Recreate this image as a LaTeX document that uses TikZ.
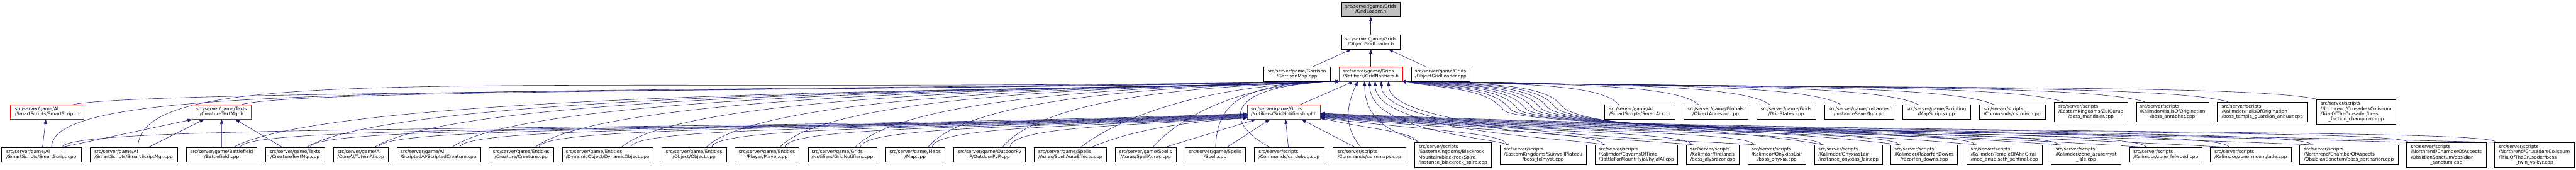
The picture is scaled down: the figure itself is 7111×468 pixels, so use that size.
\documentclass[tikz,border=0pt]{standalone}
\usepackage{fontspec}
\setmainfont{DejaVu Sans}
\usetikzlibrary{arrows.meta,calc}
\definecolor{edgecol}{HTML}{191970}
\definecolor{topgray}{HTML}{BFBFBF}
\pgfdeclarelayer{bg}
\pgfsetlayers{bg,main}
\newcommand\nlab[2]{\begin{tabular}{@{}l@{}}#1\\\multicolumn{1}{@{}c@{}}{#2}\end{tabular}}
\newcommand\depE[6]{\draw[conn] let \p1=(#1), \p2=(#2) in (\p1) .. controls ({\x1+(#3)*(\x2-\x1)},{\y2-(#4pt)}) and ({\x1+(#5)*(\x2-\x1)},{\y2-(#6pt)}) .. (\p2);}
\newcommand\depH[4]{\draw[conn] let \p1=(#1), \p2=(gnR) in (\p1) .. controls ({0.5*\x1+0.5*#2pt+100pt},-#3pt) and (#2pt+45pt,-#3pt) .. (#2pt,{-0.5*(#3pt+#4pt)}) .. controls (#2pt-45pt,-#4pt) and ({0.5*#2pt+0.5*\x2},-#4pt) .. (\p2);}
\begin{document}
\begin{tikzpicture}[x=1pt,y=-1pt,
  box/.style={draw=black,line width=1pt,fill=white,inner xsep=2pt,inner ysep=5.7pt,font=\fontsize{12.7pt}{14.3pt}\selectfont},
  redbox/.style={box,draw=red},
  conn/.style={draw=edgecol,line width=1pt,-{Triangle[length=12pt,width=9pt]}}]
\useasboundingbox (0,0) rectangle (7111,468);
% rows 1-3
\node[box,fill=topgray,minimum width=162.6pt] (gl) at (3784,25.8) {\nlab{src/server/game/Grids}{/GridLoader.h}};
\node[box,minimum width=162.6pt] (ogl) at (3784,115.5) {\nlab{src/server/game/Grids}{/ObjectGridLoader.h}};
\node[box,minimum width=184pt] (gm) at (3580,204) {\nlab{src/server/game/Garrison}{/GarrisonMap.cpp}};
\node[redbox,minimum width=175pt] (gn) at (3784,204) {\nlab{src/server/game/Grids}{/Notifiers/GridNotifiers.h}};
\node[box,minimum width=162.7pt] (oglc) at (3977,204) {\nlab{src/server/game/Grids}{/ObjectGridLoader.cpp}};
% row 4
\node[redbox,minimum width=202.8pt] (ssh) at (130.5,309) {\nlab{src/server/game/AI}{/SmartScripts/SmartScript.h}};
\node[redbox,minimum width=162.9pt] (ctmh) at (611.9,309) {\nlab{src/server/game/Texts}{/CreatureTextMgr.h}};
\node[redbox,minimum width=201.1pt] (gni) at (3544,309) {\nlab{src/server/game/Grids}{/Notifiers/GridNotifiersImpl.h}};
\node[box,minimum width=193.3pt] (sai) at (4526.7,309) {\nlab{src/server/game/AI}{/SmartScripts/SmartAI.cpp}};
\node[box,minimum width=177.3pt] (oacc) at (4736,309) {\nlab{src/server/game/Globals}{/ObjectAccessor.cpp}};
\node[box,minimum width=162.7pt] (gs) at (4930.6,309) {\nlab{src/server/game/Grids}{/GridStates.cpp}};
\node[box,minimum width=191pt] (ism) at (5131.9,309) {\nlab{src/server/game/Instances}{/InstanceSaveMgr.cpp}};
\node[box,minimum width=187pt] (ms) at (5345.3,309) {\nlab{src/server/game/Scripting}{/MapScripts.cpp}};
\node[box,minimum width=182.5pt] (csmisc) at (5554.6,309) {\nlab{src/server/scripts}{/Commands/cs\_misc.cpp}};
\node[box,minimum width=202.5pt] (mand) at (5772,308.5) {\nlab{src/server/scripts\\/EasternKingdoms/ZulGurub}{/boss\_mandokir.cpp}};
\node[box,minimum width=199.9pt] (anra) at (5997.2,308.5) {\nlab{src/server/scripts\\/Kalimdor/HallsOfOrigination}{/boss\_anraphet.cpp}};
\node[box,minimum width=249.1pt] (anhuur) at (6245.2,308.5) {\nlab{src/server/scripts\\/Kalimdor/HallsOfOrigination}{/boss\_temple\_guardian\_anhuur.cpp}};
\node[box,minimum width=218.6pt] (fac) at (6503.9,308.5) {\nlab{src/server/scripts\\/Northrend/CrusadersColiseum\\/TrialOfTheCrusader/boss}{\_faction\_champions.cpp}};
% row 5
\node[box,minimum width=219pt] (ssc) at (114.2,427) {\nlab{src/server/game/AI}{/SmartScripts/SmartScript.cpp}};
\node[box,minimum width=241.5pt] (ssm) at (369,427) {\nlab{src/server/game/AI}{/SmartScripts/SmartScriptMgr.cpp}};
\node[box,minimum width=195pt] (bf) at (611.8,427) {\nlab{src/server/game/Battlefield}{/Battlefield.cpp}};
\node[box,minimum width=162.6pt] (ctmc) at (814.4,427) {\nlab{src/server/game/Texts}{/CreatureTextMgr.cpp}};
\node[box,minimum width=151pt] (totem) at (996,427) {\nlab{src/server/game/AI}{/CoreAI/TotemAI.cpp}};
\node[box,minimum width=231pt] (scr) at (1210.6,427) {\nlab{src/server/game/AI}{/ScriptedAI/ScriptedCreature.cpp}};
\node[box,minimum width=177.6pt] (crea) at (1438.6,427) {\nlab{src/server/game/Entities}{/Creature/Creature.cpp}};
\node[box,minimum width=250.8pt] (dyn) at (1677.3,427) {\nlab{src/server/game/Entities}{/DynamicObject/DynamicObject.cpp}};
\node[box,minimum width=177.6pt] (obj) at (1916,427) {\nlab{src/server/game/Entities}{/Object/Object.cpp}};
\node[box,minimum width=177.6pt] (plr) at (2117.3,427) {\nlab{src/server/game/Entities}{/Player/Player.cpp}};
\node[box,minimum width=189.6pt] (gnc) at (2325.4,427) {\nlab{src/server/game/Grids}{/Notifiers/GridNotifiers.cpp}};
\node[box,minimum width=164.2pt] (map) at (2526.4,427) {\nlab{src/server/game/Maps}{/Map.cpp}};
\node[box,minimum width=197.5pt] (opvp) at (2731.8,427) {\nlab{src/server/game/OutdoorPv}{P/OutdoorPvP.cpp}};
\node[box,minimum width=198.4pt] (sae) at (2954.6,427) {\nlab{src/server/game/Spells}{/Auras/SpellAuraEffects.cpp}};
\node[box,minimum width=168.4pt] (sa) at (3162.5,427) {\nlab{src/server/game/Spells}{/Auras/SpellAuras.cpp}};
\node[box,minimum width=168pt] (spell) at (3354.4,427) {\nlab{src/server/game/Spells}{/Spell.cpp}};
\node[box,minimum width=191.9pt] (csd) at (3558.5,427) {\nlab{src/server/scripts}{/Commands/cs\_debug.cpp}};
\node[box,minimum width=201.3pt] (csm) at (3780,427) {\nlab{src/server/scripts}{/Commands/cs\_mmaps.cpp}};
\node[box,minimum width=212pt] (brs) at (4010.7,427.5) {\nlab{src/server/scripts\\/EasternKingdoms/Blackrock\\Mountain/BlackrockSpire}{/instance\_blackrock\_spire.cpp}};
\node[box,minimum width=238.6pt] (felm) at (4259.8,427) {\nlab{src/server/scripts\\/EasternKingdoms/SunwellPlateau}{/boss\_felmyst.cpp}};
\node[box,minimum width=226.6pt] (hyjal) at (4517.2,427) {\nlab{src/server/scripts\\/Kalimdor/CavernsOfTime}{/BattleForMountHyjal/hyjalAI.cpp}};
\node[box,minimum width=146.8pt] (alys) at (4728,427) {\nlab{src/server/scripts\\/Kalimdor/Firelands}{/boss\_alysrazor.cpp}};
\node[box,minimum width=159.2pt] (onyx) at (4905.1,427) {\nlab{src/server/scripts\\/Kalimdor/OnyxiasLair}{/boss\_onyxia.cpp}};
\node[box,minimum width=186.8pt] (onyl) at (5102.6,427) {\nlab{src/server/scripts\\/Kalimdor/OnyxiasLair}{/instance\_onyxias\_lair.cpp}};
\node[box,minimum width=184.7pt] (razor) at (5311.6,427) {\nlab{src/server/scripts\\/Kalimdor/RazorfenDowns}{/razorfen\_downs.cpp}};
\node[box,minimum width=209.3pt] (anub) at (5533.1,427) {\nlab{src/server/scripts\\/Kalimdor/TempleOfAhnQiraj}{/mob\_anubisath\_sentinel.cpp}};
\node[box,minimum width=191.7pt] (azure) at (5758.5,427) {\nlab{src/server/scripts\\/Kalimdor/zone\_azuremyst}{\_isle.cpp}};
\node[box,minimum width=198.4pt] (felw) at (5978.5,427) {\nlab{src/server/scripts}{/Kalimdor/zone\_felwood.cpp}};
\node[box,minimum width=222.8pt] (moon) at (6213.2,427) {\nlab{src/server/scripts}{/Kalimdor/zone\_moonglade.cpp}};
\node[box,minimum width=272.6pt] (sarth) at (6483.8,427) {\nlab{src/server/scripts\\/Northrend/ChamberOfAspects}{/ObsidianSanctum/boss\_sartharion.cpp}};
\node[box,minimum width=219.3pt] (obs) at (6753,427.5) {\nlab{src/server/scripts\\/Northrend/ChamberOfAspects\\/ObsidianSanctum/obsidian}{\_sanctum.cpp}};
\node[box,minimum width=218.9pt] (twin) at (6995.9,427.5) {\nlab{src/server/scripts\\/Northrend/CrusadersColiseum\\/TrialOfTheCrusader/boss}{\_twin\_valkyr.cpp}};
\coordinate (gnL) at ($(gn.south west)+(3,0)$);
\coordinate (gnR) at ($(gn.south east)+(-3,0)$);
\begin{pgfonlayer}{bg}
% top part
\draw[conn] (ogl) -- (gl);
\draw[conn] ($(gm.north)+(45,0)$) -- ($(ogl.south)+(-54,0)$);
\draw[conn] (gn) -- (ogl);
\draw[conn] ($(oglc.north)+(-42,0)$) -- ($(ogl.south)+(49,0)$);
\draw[conn] ($(gni.north)+(45,0)$) -- ($(gn.south)+(-48,0)$);
% local left
\draw[conn] ($(ssc.north)+(3,0)$) -- ($(ssh.south)+(-4,0)$);
\draw[conn] ($(ssc.north)+(54,0)$) -- (ctmh.south west);
\draw[conn] ($(ssm.north)+(40,0)$) -- ($(ctmh.south west)+(33,0)$);
\draw[conn] (bf) -- (ctmh);
\draw[conn] ($(ctmc.north)+(-34,0)$) -- ($(ctmh.south)+(38,0)$);
% left -> GridNotifiers.h
\depE{$(ssh.north)+(70,0)$}{gnL}{0.05}{25}{0.6}{28}
\depE{$(ctmh.north)+(54,0)$}{gnL}{0.05}{20}{0.6}{27}
\depE{$(ssc.north)+(28,0)$}{gnL}{0}{0}{0.3}{40}
\depE{$(ssm.north)+(12,0)$}{gnL}{0}{-60}{0.3}{38}
\depE{$(bf.north)+(32,0)$}{gnL}{0.1}{10}{0.85}{26}
\depE{$(ctmc.north)+(31,0)$}{gnL}{0.1}{10}{0.85}{24}
\depE{$(totem.north)+(37,0)$}{gnL}{0.1}{10}{0.85}{22}
\depE{$(scr.north)+(36,0)$}{gnL}{0.1}{10}{0.85}{20}
\depE{$(crea.north)+(38,0)$}{gnL}{0.1}{10}{0.85}{18}
\depE{$(dyn.north)+(37,0)$}{gnL}{0.1}{10}{0.85}{16}
\depE{$(obj.north)+(33,0)$}{gnL}{0.1}{10}{0.85}{14}
\depE{$(plr.north)+(35,0)$}{gnL}{0.1}{10}{0.85}{12}
\depE{$(gnc.north)+(35,0)$}{gnL}{0.12}{10}{0.85}{11}
\depE{$(map.north)+(35,0)$}{gnL}{0.12}{10}{0.85}{10}
\depE{$(opvp.north)+(35,0)$}{gnL}{0.15}{10}{0.85}{9}
\depE{$(sae.north)+(28,0)$}{gnL}{0.137}{106}{0.445}{11}
\depE{$(sa.north)+(19,0)$}{gnL}{0.134}{106}{0.426}{8}
\depE{$(spell.north)+(1,0)$}{gnL}{0.015}{76}{0.132}{4}
\depE{$(csd.north)+(-52,0)$}{gnL}{-0.66}{116}{-0.71}{11}
\draw[conn] ($(csm.north)+(-23,0)$) .. controls (3700,340) and (3725,275) .. ($(gn.south)+(-36,0)$);
% left -> GridNotifiersImpl.h
\depE{$(ssc.north)+(58,0)$}{$(gni.south west)+(0,-16)$}{0}{25}{0.5}{55}
\depE{$(bf.north)+(52,0)$}{$(gni.south west)+(0,-15)$}{0}{25}{0.5}{52}
\depE{$(ctmc.north)+(42,0)$}{$(gni.south west)+(0,-14)$}{0}{25}{0.5}{49}
\depE{$(totem.north)+(49,0)$}{$(gni.south west)+(0,-13)$}{0}{25}{0.5}{46}
\depE{$(scr.north)+(59,0)$}{$(gni.south west)+(0,-12)$}{0}{25}{0.5}{43}
\depE{$(crea.north)+(49,0)$}{$(gni.south west)+(0,-11)$}{0}{25}{0.5}{40}
\depE{$(dyn.north)+(64,0)$}{$(gni.south west)+(0,-10)$}{0}{25}{0.5}{37}
\depE{$(obj.north)+(49,0)$}{$(gni.south west)+(0,-9)$}{0}{25}{0.5}{34}
\depE{$(plr.north)+(49,0)$}{$(gni.south west)+(0,-8)$}{0}{25}{0.5}{31}
\depE{$(gnc.north)+(50,0)$}{$(gni.south west)+(0,-7)$}{0}{25}{0.5}{28}
\depE{$(map.north)+(47,0)$}{$(gni.south west)+(0,-6)$}{0}{25}{0.5}{25}
\depE{$(opvp.north)+(56,0)$}{$(gni.south west)+(0,-5)$}{0}{25}{0.5}{22}
\depE{$(sae.north)+(57,0)$}{$(gni.south west)+(0,-4)$}{0.3}{25}{0.7}{8}
\draw[conn] ($(sa.north)+(52,0)$) -- ($(gni.south west)+(23,0)$);
\draw[conn] ($(spell.north)+(32,0)$) -- ($(gni.south west)+(62,0)$);
\draw[conn] ($(csd.north)+(-2,0)$) -- ($(gni.south west)+(106,0)$);
\draw[conn] ($(csm.north)+(-38,0)$) -- ($(gni.south east)+(-52,0)$);
% right row 4 -> GridNotifiers.h
\depE{$(sai.north west)+(39,0)$}{gnR}{0.08}{5}{0.5}{6}
\depE{$(oacc.north west)+(42,0)$}{gnR}{0.08}{5}{0.5}{8}
\depE{$(gs.north west)+(37,0)$}{gnR}{0.08}{5}{0.5}{10}
\depE{$(ism.north west)+(45,0)$}{gnR}{0.08}{5}{0.5}{12}
\depE{$(ms.north west)+(44,0)$}{gnR}{0.08}{5}{0.5}{14}
\depE{$(csmisc.north west)+(42,0)$}{gnR}{0.08}{5}{0.5}{16}
\depE{$(mand.north west)+(24,0)$}{gnR}{0.08}{5}{0.5}{18}
\depE{$(anra.north west)+(24,0)$}{gnR}{0.08}{5}{0.5}{20}
\depE{$(anhuur.north west)+(31,0)$}{gnR}{0.08}{5}{0.5}{22}
\depE{$(fac.north west)+(3,0)$}{gnR}{0.08}{5}{0.5}{24}
% right row 5 -> GridNotifiersImpl.h
\depE{$(brs.north west)+(8,0)$}{$(gni.south east)+(0,-4)$}{0}{40}{0.5}{30}
\depE{$(felm.north west)+(19,0)$}{$(gni.south east)+(0,-5)$}{0}{40}{0.5}{33}
\depE{$(hyjal.north west)+(22,0)$}{$(gni.south east)+(0,-6)$}{0}{40}{0.5}{36}
\depE{$(alys.north west)+(15,0)$}{$(gni.south east)+(0,-7)$}{0}{40}{0.5}{40}
\depE{$(onyx.north west)+(16,0)$}{$(gni.south east)+(0,-8)$}{0}{40}{0.5}{43}
\depE{$(onyl.north west)+(20,0)$}{$(gni.south east)+(0,-9)$}{0}{40}{0.5}{46}
\depE{$(razor.north west)+(22,0)$}{$(gni.south east)+(0,-10)$}{0}{40}{0.5}{49}
\depE{$(anub.north west)+(24,0)$}{$(gni.south east)+(0,-11)$}{0}{40}{0.5}{52}
\depE{$(azure.north west)+(20,0)$}{$(gni.south east)+(0,-12)$}{0}{40}{0.5}{55}
\depE{$(felw.north west)+(45,0)$}{$(gni.south east)+(0,-13)$}{0}{40}{0.5}{57}
\depE{$(moon.north west)+(52,0)$}{$(gni.south east)+(0,-14)$}{0}{40}{0.5}{59}
\depE{$(sarth.north west)+(33,0)$}{$(gni.south east)+(0,-15)$}{0}{40}{0.5}{61}
\depE{$(obs.north west)+(5,0)$}{$(gni.south east)+(0,-16)$}{0}{40}{0.5}{63}
\depE{$(twin.north west)+(5,0)$}{$(gni.south east)+(0,-17)$}{0}{40}{0.5}{65}
% right row 5 -> GridNotifiers.h (low route)
\depE{$(brs.north west)+(14,0)$}{$(gn.south west)+(71,0)$}{0.15}{150}{1}{135}
\depE{$(felm.north west)+(25,0)$}{$(gn.south west)+(85,0)$}{0.15}{153}{1}{138}
\depE{$(hyjal.north west)+(28,0)$}{$(gn.south west)+(100,0)$}{0.15}{156}{1}{141}
\depE{$(alys.north west)+(21,0)$}{$(gn.south west)+(117,0)$}{0.15}{159}{1}{144}
\depE{$(onyx.north west)+(22,0)$}{$(gn.south west)+(137,0)$}{0.15}{162}{1}{147}
% right row 5 -> GridNotifiers.h (high route)
\depH{$(onyl.north west)+(26,0)$}{4310}{352}{230}
\depH{$(razor.north west)+(28,0)$}{4290}{353}{232}
\depH{$(anub.north west)+(30,0)$}{4270}{354}{234}
\depH{$(azure.north west)+(26,0)$}{4250}{355}{236}
\depH{$(felw.north west)+(50,0)$}{4230}{356}{238}
\depH{$(moon.north west)+(57,0)$}{4210}{357}{240}
\depH{$(sarth.north west)+(38,0)$}{4190}{358}{242}
\depH{$(obs.north west)+(10,0)$}{4170}{359}{244}
\depH{$(twin.north west)+(10,0)$}{4150}{360}{246}
\end{pgfonlayer}
\end{tikzpicture}
\end{document}
